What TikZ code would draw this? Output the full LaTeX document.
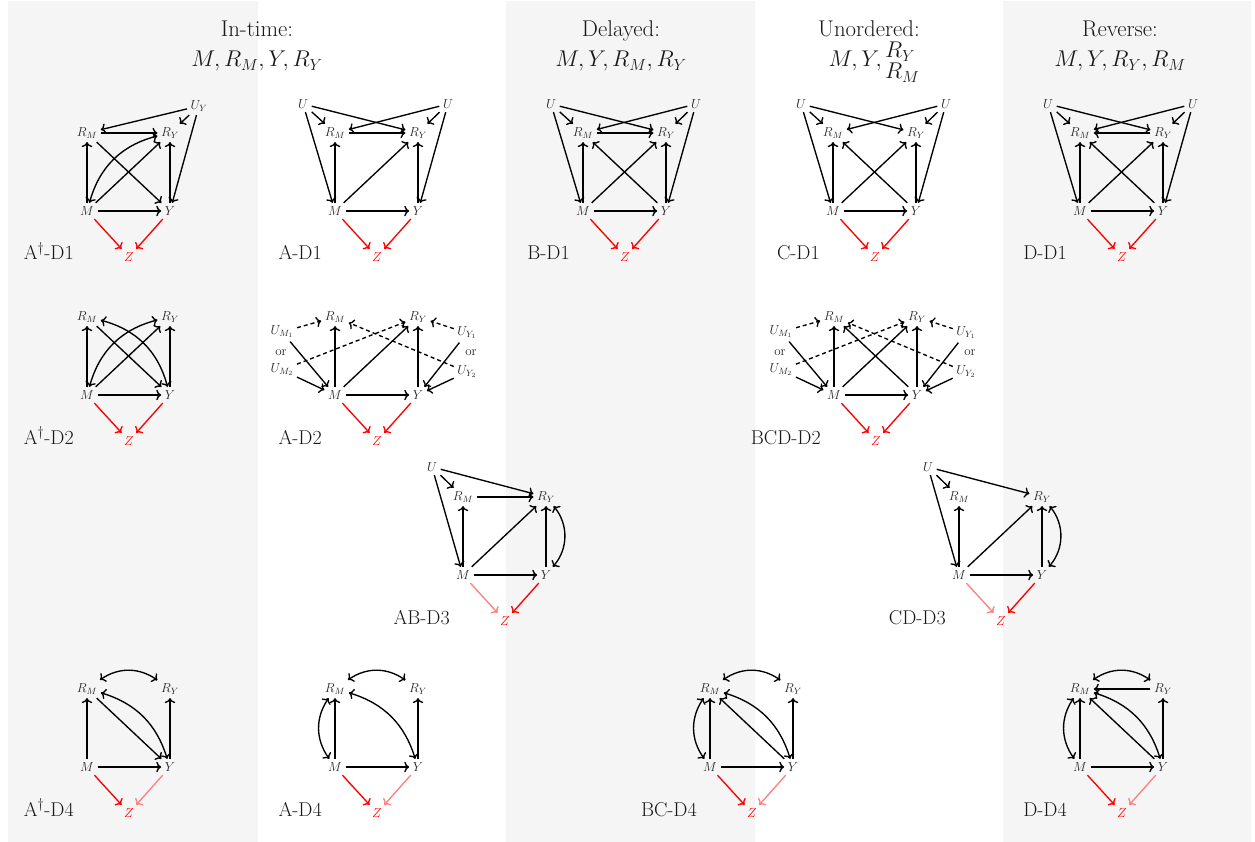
\RequirePackage{fix-cm}
\documentclass[tikz,border=0pt]{standalone}
\usetikzlibrary{arrows.meta}
\tikzset{
 >={To[length=5pt,width=10.5pt]},
 v/.style={font=\fontsize{13}{15}\selectfont, inner sep=3.5pt, text=black!85},
 ed/.style={->, line width=1.35pt},
 bi/.style={<->, line width=1.35pt},
 dd/.style={ed, dash pattern=on 4pt off 3pt},
 rd/.style={ed, red},
 pk/.style={ed, red!50},
 lab/.style={anchor=base east, font=\fontsize{20}{24}\selectfont, text=black!90, inner sep=0pt},
 ttl/.style={anchor=base, font=\fontsize{22.8}{27}\selectfont, text=black!90, inner sep=0pt},
}
\newcommand{\mkbase}[4]{%
 \begin{scope}[shift={(#2,-#3)}]
 \node[v] (#1M) at (0,0) {$M$};
 \node[v] (#1Y) at (83,0) {$Y$};
 \node[v] (#1RM) at (0,78) {$R_M$};
 \node[v] (#1RY) at (83,78) {$R_Y$};
 \node[v,text=red] (#1Z) at (42,-46) {$Z$};
 \node[lab] (#1L) at (-13,-49) {#4};
 \end{scope}}
\newcommand{\mkUU}[3]{%
 \begin{scope}[shift={(#2,-#3)}]
 \node[v] (#1UL) at (-32,107) {$U$};
 \node[v] (#1UR) at (113,107) {$U$};
 \end{scope}}
\newcommand{\mkUtwo}[3]{%
 \begin{scope}[shift={(#2,-#3)}]
 \node[v] (#1UMa) at (-53,63) {$U_{M_1}$};
 \node[v] (#1ora) at (-54,42) {or};
 \node[v] (#1UMb) at (-53,25) {$U_{M_2}$};
 \node[v] (#1UYa) at (132,62) {$U_{Y_1}$};
 \node[v] (#1orb) at (136,42) {or};
 \node[v] (#1UYb) at (132,23) {$U_{Y_2}$};
 \end{scope}}
\newcommand{\mkUthree}[3]{%
 \begin{scope}[shift={(#2,-#3)}]
 \node[v] (#1U) at (-31,108) {$U$};
 \end{scope}}
\begin{document}
\begin{tikzpicture}[x=1pt,y=1pt]
\useasboundingbox (0,0) rectangle (1255,-842);
\fill[black!4] (8,-1.5) rectangle (258,-842);
\fill[black!4] (506,-1.5) rectangle (755,-842);
\fill[black!4] (1003,-1.5) rectangle (1251,-842);

% titles
\node[ttl] (t1) at (257,-37) {In-time:};
\node[ttl] (t1m) at (257,-67) {$M, R_M, Y, R_Y$};
\node[ttl] (t2) at (621,-37) {Delayed:};
\node[ttl] (t2m) at (621,-67) {$M, Y, R_M, R_Y$};
\node[ttl] (t3) at (869,-37) {Unordered:};
\node[ttl, anchor=base east] (t3m) at (882,-67) {$M, Y,$};
\node[ttl, anchor=base west] (t3a) at (885,-58) {$R_Y$};
\node[ttl, anchor=base west] (t3b) at (885,-79) {$R_M$};
\node[ttl] (t4) at (1120,-37) {Reverse:};
\node[ttl] (t4m) at (1120,-67) {$M, Y, R_Y, R_M$};

% ---------- Row 1 ----------
\mkbase{p}{87}{211}{A$^\dagger$-D1}
\begin{scope}[shift={(87,-211)}]\node[v] (pUY) at (112,105) {$U_Y$};\end{scope}
\draw[ed] (pUY) -- (pRM);
\draw[ed] (pUY) -- (pRY);
\draw[ed] (pUY) -- (pY);
\draw[ed] (pRM) -- (pRY);
\draw[ed] (pRM) -- (pY);
\draw[ed] (pM) -- (pRY);
\draw[ed] (pM) -- (pRM);
\draw[ed] (pY) -- (pRY);
\draw[ed] (pM) -- (pY);
\draw[bi] (pM) to[bend left=30] (pRY);
\draw[rd] (pM) -- (pZ);
\draw[rd] (pY) -- (pZ);

\mkbase{a}{335}{211}{A-D1}\mkUU{a}{335}{211}
\mkbase{b}{583}{211}{B-D1}\mkUU{b}{583}{211}
\mkbase{c}{833}{211}{C-D1}\mkUU{c}{833}{211}
\mkbase{d}{1080}{211}{D-D1}\mkUU{d}{1080}{211}
\foreach \p in {a,b,c,d}{
 \draw[ed] (\p UL) -- (\p RM);
 \draw[ed] (\p UL) -- (\p M);
 \draw[ed] (\p UL) -- (\p RY);
 \draw[ed] (\p UR) -- (\p RY);
 \draw[ed] (\p UR) -- (\p Y);
 \draw[ed] (\p UR) -- (\p RM);
 \draw[ed] (\p M) -- (\p RM);
 \draw[ed] (\p Y) -- (\p RY);
 \draw[ed] (\p M) -- (\p RY);
 \draw[ed] (\p M) -- (\p Y);
 \draw[rd] (\p M) -- (\p Z);
 \draw[rd] (\p Y) -- (\p Z);
}
\draw[ed] (aRM) -- (aRY);
\draw[ed] (bRM) -- (bRY);
\draw[ed] (bY) -- (bRM);
\draw[ed] (cY) -- (cRM);
\draw[ed] (dRY) -- (dRM);
\draw[ed] (dY) -- (dRM);

% ---------- Row 2 ----------
\mkbase{q}{87}{395}{A$^\dagger$-D2}
\draw[ed] (qM) -- (qRM);
\draw[ed] (qY) -- (qRY);
\draw[ed] (qM) -- (qY);
\draw[ed] (qM) -- (qRY);
\draw[ed] (qRM) -- (qY);
\draw[bi] (qM) to[bend left=30] (qRY);
\draw[bi] (qRM) to[bend left=30] (qY);
\draw[rd] (qM) -- (qZ);
\draw[rd] (qY) -- (qZ);

\mkbase{e}{335}{395}{A-D2}\mkUtwo{e}{335}{395}
\mkbase{f}{834}{395}{BCD-D2}\mkUtwo{f}{834}{395}
\foreach \p in {e,f}{
 \draw[dd] (\p UMa) -- (\p RM);
 \draw[dd] (\p UMb) -- (\p RY);
 \draw[dd] (\p UYa) -- (\p RY);
 \draw[dd] (\p UYb) -- (\p RM);
 \draw[ed] (\p UMa) -- (\p M);
 \draw[ed] (\p UMb) -- (\p M);
 \draw[ed] (\p UYa) -- (\p Y);
 \draw[ed] (\p UYb) -- (\p Y);
 \draw[ed] (\p M) -- (\p RM);
 \draw[ed] (\p Y) -- (\p RY);
 \draw[ed] (\p M) -- (\p RY);
 \draw[ed] (\p M) -- (\p Y);
 \draw[rd] (\p M) -- (\p Z);
 \draw[rd] (\p Y) -- (\p Z);
}
\draw[ed] (fY) -- (fRM);

% ---------- Row 3 ----------
\mkbase{g}{463}{575}{AB-D3}\mkUthree{g}{463}{575}
\mkbase{h}{959}{575}{CD-D3}\mkUthree{h}{959}{575}
\foreach \p in {g,h}{
 \draw[ed] (\p U) -- (\p RM);
 \draw[ed] (\p U) -- (\p M);
 \draw[ed] (\p U) -- (\p RY);
 \draw[ed] (\p M) -- (\p RM);
 \draw[ed] (\p M) -- (\p RY);
 \draw[ed] (\p Y) -- (\p RY);
 \draw[bi] (\p Y) to[bend right=40] (\p RY);
 \draw[ed] (\p M) -- (\p Y);
 \draw[pk] (\p M) -- (\p Z);
 \draw[rd] (\p Y) -- (\p Z);
}
\draw[ed] (gRM) -- (gRY);

% ---------- Row 4 ----------
\mkbase{i}{87}{767}{A$^\dagger$-D4}
\mkbase{j}{335}{767}{A-D4}
\mkbase{k}{710}{767}{BC-D4}
\mkbase{l}{1080}{767}{D-D4}
\foreach \p in {i,j,k,l}{
 \draw[bi] (\p RM) to[bend left=35] (\p RY);
 \draw[ed] (\p M) -- (\p RM);
 \draw[ed] (\p Y) -- (\p RY);
 \draw[ed] (\p M) -- (\p Y);
 \draw[bi] (\p RM) to[bend left=28] (\p Y);
 \draw[rd] (\p M) -- (\p Z);
 \draw[pk] (\p Y) -- (\p Z);
}
\draw[ed] (iRM) -- (iY);
\foreach \p in {j,k,l}{
 \draw[bi] (\p M) to[bend left=35] (\p RM);
}
\draw[ed] (kY) -- (kRM);
\draw[ed] (lY) -- (lRM);
\draw[ed] (lRY) -- (lRM);
\end{tikzpicture}
\end{document}
